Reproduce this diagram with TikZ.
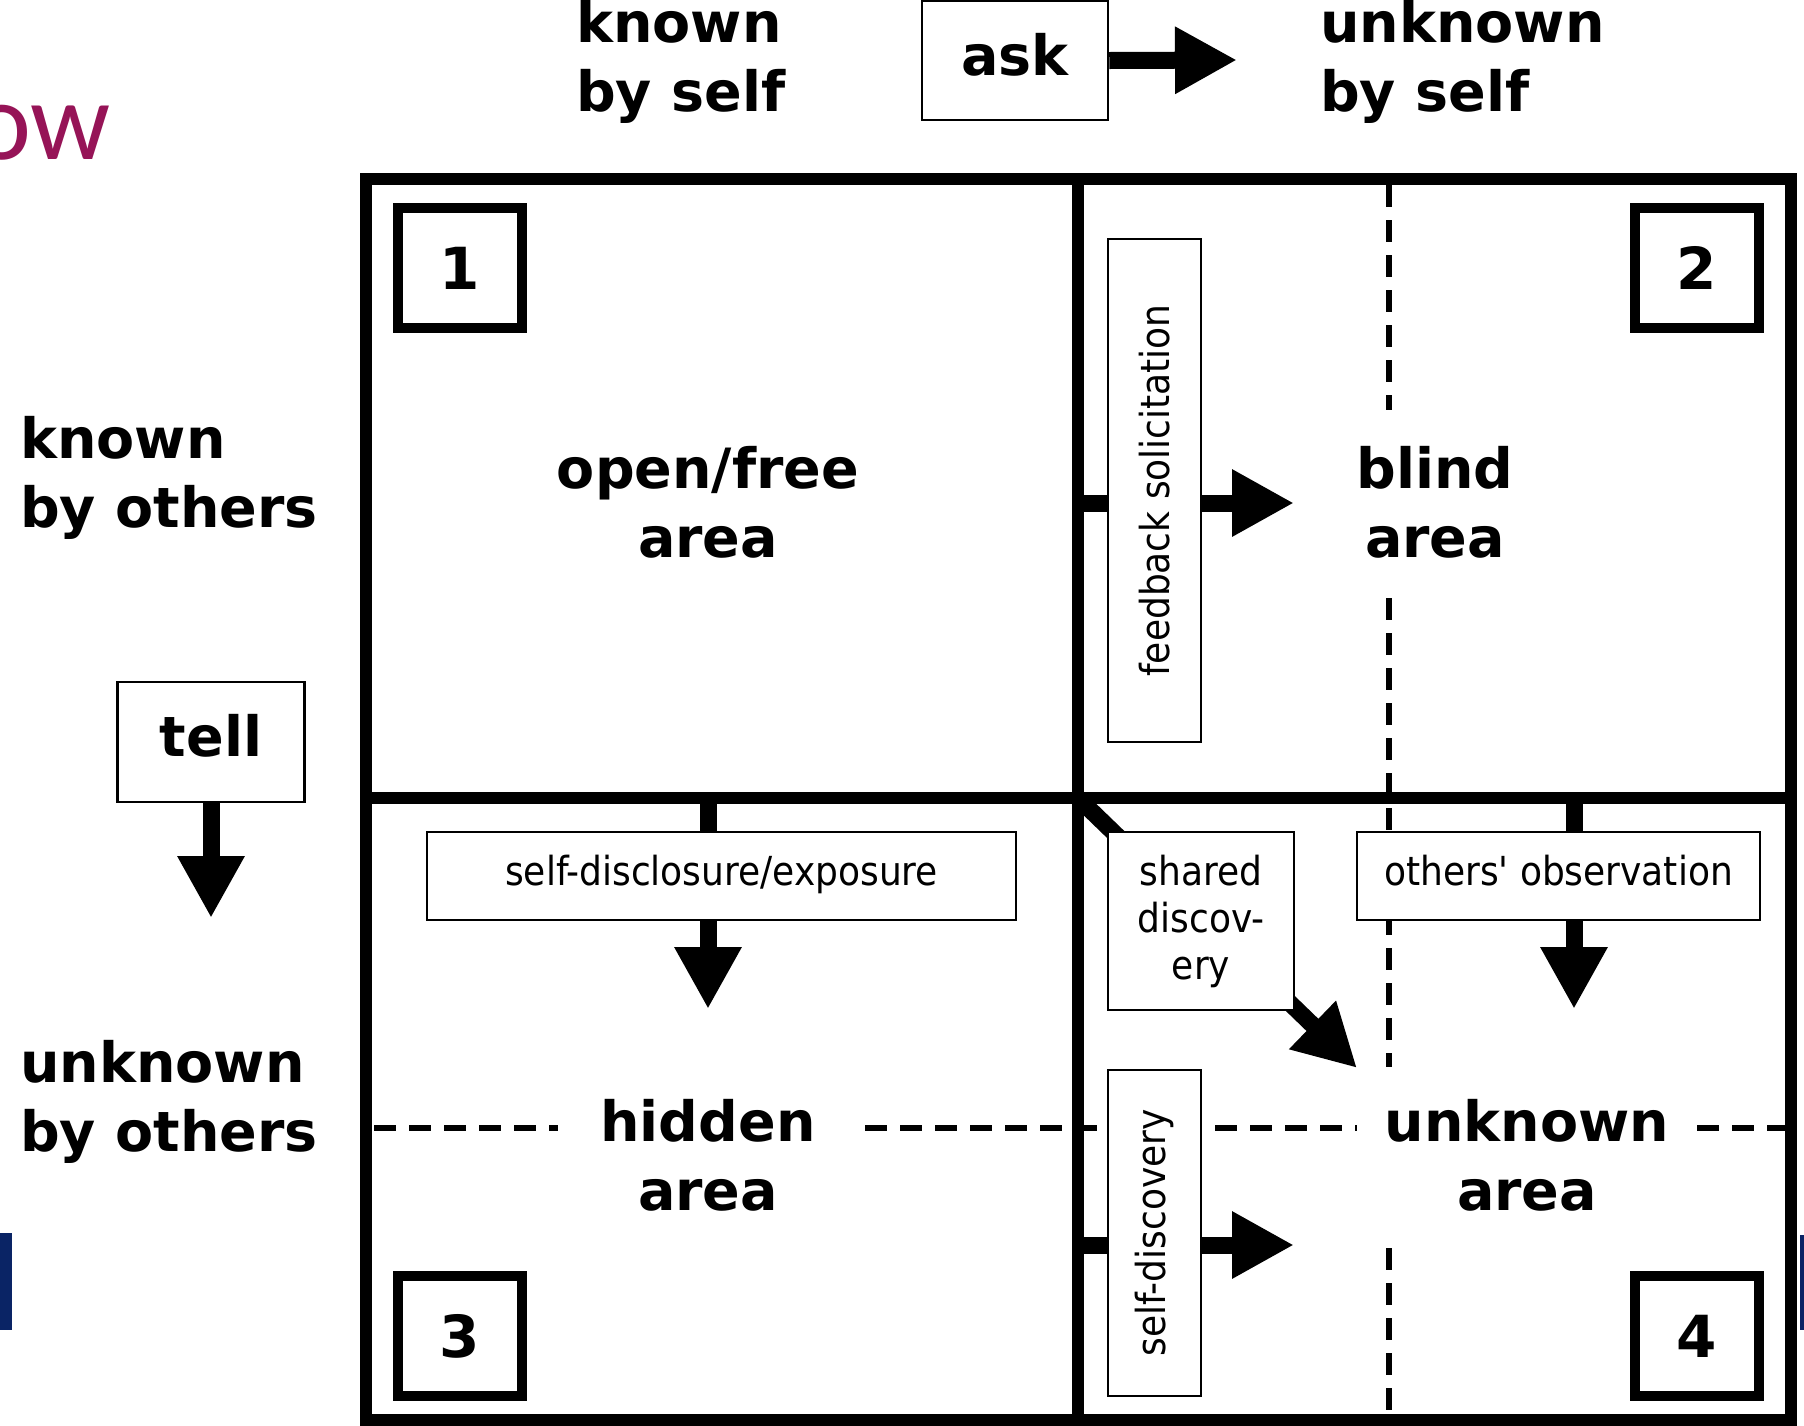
\documentclass[tikz,border=0pt]{standalone}
\usepackage{fontspec}
\setmainfont{DejaVu Sans}
\newfontfamily\condfont{DejaVu Sans Condensed}
\newfontfamily\titlefont{Carlito}
\usetikzlibrary{arrows.meta}
\definecolor{titlepurple}{HTML}{961457}
\definecolor{barnavy}{HTML}{0A2465}
\tikzset{
  frameline/.style={line width=12pt},
  numbox/.style={draw, line width=10pt, minimum width=124pt, minimum height=120pt,
    inner sep=0pt, font=\fontsize{58}{60}\selectfont\bfseries},
  lblbox/.style={draw, line width=2.5pt, fill=white, inner sep=0pt},
  bigtext/.style={font=\fontsize{55.5}{69}\selectfont\bfseries, inner sep=0pt},
  smalltext/.style={font=\condfont\fontsize{40}{47}\selectfont},
  flow/.style={line width=17pt, -{Triangle[length=62pt,width=63pt]}},
  guide/.style={line width=5.5pt, dash pattern=on 22pt off 13pt},
}
\begin{document}
\begin{tikzpicture}[x=1pt, y=-1pt]
\fill[white] (0,0) rectangle (1804,1425);
\useasboundingbox (0,0) rectangle (1804,1425);

% title fragment and side bars
\node[font=\titlefont\fontsize{112}{112}\selectfont, text=titlepurple,
      anchor=base east, inner sep=0pt] (ttl) at (111,159) {ow};
\fill[barnavy] (0,1233) rectangle (12,1330);
\fill[barnavy] (1800,1235) rectangle (1804,1330);

% axis headings
\node[bigtext, align=left, anchor=west] (kself) at (576,62) {known\\by self};
\node[bigtext, align=left, anchor=west] (uself) at (1320,62) {unknown\\by self};
\node[bigtext, align=left, anchor=west] (kothers) at (20,478) {known\\by others};
\node[bigtext, align=left, anchor=west] (uothers) at (20,1102) {unknown\\by others};

% ask / tell
\node[lblbox, bigtext, minimum width=186pt, text height=74pt, text depth=45pt,
      anchor=base] (ask) at (1015,75) {ask};
\coordinate (asktip) at (1237,60);
\draw[flow] (ask.east) -- (asktip);
\node[lblbox, bigtext, minimum width=187pt, text height=74pt, text depth=46pt,
      anchor=base] (tell) at (211,756) {tell};
\coordinate (telltip) at (211,918);
\draw[flow] (tell.south) -- (telltip);

% guide lines (dashed)
\draw[guide] (1389,185) -- (1389,410);
\draw[guide] (1389,598) -- (1389,1067);
\draw[guide] (1389,1248) -- (1389,1415);
\draw[guide] (374,1128) -- (558,1128);
\draw[guide] (865,1128) -- (1357,1128);
\draw[guide] (1697,1128) -- (1785,1128);

% quadrant frame
\draw[frameline] (366,179) rectangle (1791,1420);
\draw[frameline] (1078,179) -- (1078,1420);
\draw[frameline] (366,798) -- (1791,798);

% movement arrows (drawn beneath their label boxes)
\coordinate (fbsrc) at (1078,503);   \coordinate (fbtip) at (1294,503);
\coordinate (sdsrc) at (1078,1245);  \coordinate (sdtip) at (1294,1245);
\coordinate (exsrc) at (708,798);    \coordinate (extip) at (708,1009);
\coordinate (obsrc) at (1574,798);   \coordinate (obtip) at (1574,1009);
\coordinate (shsrc) at (1078,798);   \coordinate (shtip) at (1357,1068);
\draw[flow] (fbsrc) -- (fbtip);
\draw[flow] (sdsrc) -- (sdtip);
\draw[flow] (exsrc) -- (extip);
\draw[flow] (obsrc) -- (obtip);
\draw[flow] (shsrc) -- (shtip);

% label boxes
\node[lblbox, smalltext, rotate=90, minimum width=503pt, minimum height=93pt]
  (fb) at (1154.5,490.5) {feedback solicitation};
\node[lblbox, smalltext, rotate=90, minimum width=326pt, minimum height=93pt]
  (sdisc) at (1154.5,1233) {self-discovery};
\node[lblbox, smalltext, minimum width=589pt, text height=53pt, text depth=35pt,
      anchor=base] (expo) at (721.5,885) {self-disclosure/exposure};
\node[lblbox, smalltext, minimum width=403pt, text height=53pt, text depth=35pt,
      anchor=base] (obs) at (1558.5,885) {others' observation};
\node[lblbox, smalltext, align=center, minimum width=186pt, minimum height=178pt]
  (shared) at (1201,921) {shared\\discov-\\ery};

% quadrant numbers
\node[numbox] (n1) at (460,268) {1};
\node[numbox] (n2) at (1697,268) {2};
\node[numbox] (n3) at (460,1336) {3};
\node[numbox] (n4) at (1697,1336) {4};

% quadrant names
\node[bigtext, align=center] (open) at (708,502) {open/free\\area};
\node[bigtext, align=center] (blind) at (1435,502) {blind\\area};
\node[bigtext, align=center] (hidden) at (708,1155) {hidden\\area};
\node[bigtext, align=center] (unknown) at (1527,1155) {unknown\\area};
\end{tikzpicture}
\end{document}
